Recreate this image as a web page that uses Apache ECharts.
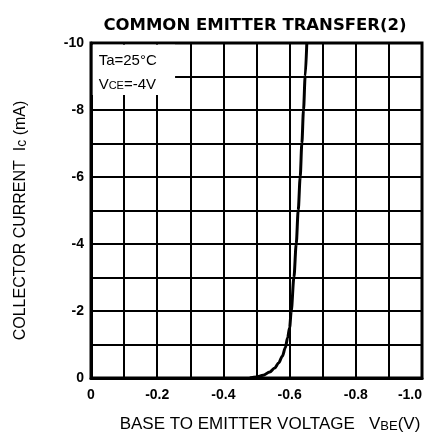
<!DOCTYPE html>
<html>
<head>
<meta charset="utf-8">
<script src="https://cdn.jsdelivr.net/npm/echarts@6/dist/echarts.min.js"></script>
<style>
html,body{margin:0;padding:0;background:#fff;}
#chart{width:429px;height:445px;}
</style>
</head>
<body>
<div id="chart"></div>
<script>
// Data
var vbe = [-0.48, -0.50, -0.52, -0.54, -0.555, -0.567, -0.578, -0.587, -0.594, -0.600, -0.605, -0.613, -0.620, -0.626, -0.632, -0.637, -0.642, -0.647, -0.652];
var ic  = [0, -0.03, -0.08, -0.18, -0.3, -0.45, -0.65, -0.9, -1.2, -1.5, -2, -3, -4, -5, -6, -7, -8, -9, -10];
var xTicks = [0, -0.2, -0.4, -0.6, -0.8, -1.0];
var yTicks = [0, -2, -4, -6, -8, -10];
var titleText = 'COMMON EMITTER TRANSFER(2)';
var conditions = ['Ta=25°C', 'V{s|CE}=-4V'];

var points = vbe.map(function (v, i) { return [v, ic[i]]; });

var chart = echarts.init(document.getElementById('chart'), null, {renderer: 'canvas'});
var font = 'Liberation Sans, Arial, sans-serif';

function fmtX(v) {
  var k = Math.round(v * 10);
  for (var i = 0; i < xTicks.length; i++) {
    if (Math.round(xTicks[i] * 10) === k) return k === 0 ? '0' : (k / 10).toFixed(1);
  }
  return '';
}
function fmtY(v) {
  var k = Math.round(v);
  return yTicks.indexOf(k) >= 0 ? String(k) : '';
}

chart.setOption({
  animation: false,
  backgroundColor: '#fff',
  title: {
    text: titleText,
    left: 250, top: 12, textAlign: 'center',
    textStyle: {fontFamily: 'DejaVu Sans, sans-serif', fontSize: 16.5, fontWeight: 'bold', color: '#000'}
  },
  grid: {left: 91, right: 7, top: 43, bottom: 67, show: true, borderColor: '#000', borderWidth: 3,
         containLabel: false, outerBoundsMode: 'none'},
  xAxis: {
    type: 'value', min: -1, max: 0, interval: 0.1, inverse: true,
    name: '{a|BASE TO EMITTER VOLTAGE   V}{s|BE}{a|(V)}',
    nameLocation: 'middle', nameGap: 38,
    nameTextStyle: {
      padding: [0, 0, 0, 27],
      rich: {
        a: {fontFamily: font, fontSize: 17, color: '#000'},
        s: {fontFamily: font, fontSize: 13, color: '#000', padding: [4, 0, 0, 0]}
      }
    },
    axisLine: {show: true, lineStyle: {color: '#000', width: 3}},
    axisTick: {show: false},
    splitLine: {show: true, lineStyle: {color: '#000', width: 2}},
    axisLabel: {formatter: fmtX, margin: 10, fontFamily: font, fontSize: 14, fontWeight: 'bold', color: '#000',
                alignMinLabel: 'right', alignMaxLabel: 'center'}
  },
  yAxis: {
    type: 'value', min: -10, max: 0, interval: 1, inverse: true,
    name: '{a|COLLECTOR CURRENT  I}{s|c}{a| (mA)}',
    nameLocation: 'middle', nameGap: 62, nameRotate: 90,
    nameTextStyle: {
      padding: [0, 20, 0, 0],
      rich: {
        a: {fontFamily: font, fontSize: 16, color: '#000'},
        s: {fontFamily: font, fontSize: 14, color: '#000', padding: [2, 0, 0, 0]}
      }
    },
    axisLine: {show: true, lineStyle: {color: '#000', width: 3}},
    axisTick: {show: false},
    splitLine: {show: true, lineStyle: {color: '#000', width: 2}},
    axisLabel: {formatter: fmtY, margin: 7, fontFamily: font, fontSize: 14, fontWeight: 'bold', color: '#000'}
  },
  series: [{
    type: 'line',
    data: points,
    smooth: 0.3,
    smoothMonotone: 'x',
    showSymbol: false,
    lineStyle: {color: '#000', width: 3},
    markArea: {
      silent: true,
      itemStyle: {color: '#fff', borderWidth: 0},
      label: {
        show: true, position: 'insideTopLeft', offset: [1, -1],
        formatter: conditions.join('\n'),
        lineHeight: 24,
        fontFamily: font, fontSize: 15, color: '#000',
        rich: {s: {fontFamily: font, fontSize: 11, color: '#000', padding: [3, 0, 0, 0]}}
      },
      data: [[{coord: [-0.005, -9.95]}, {coord: [-0.254, -8.45]}]]
    }
  }]
});
</script>
</body>
</html>
